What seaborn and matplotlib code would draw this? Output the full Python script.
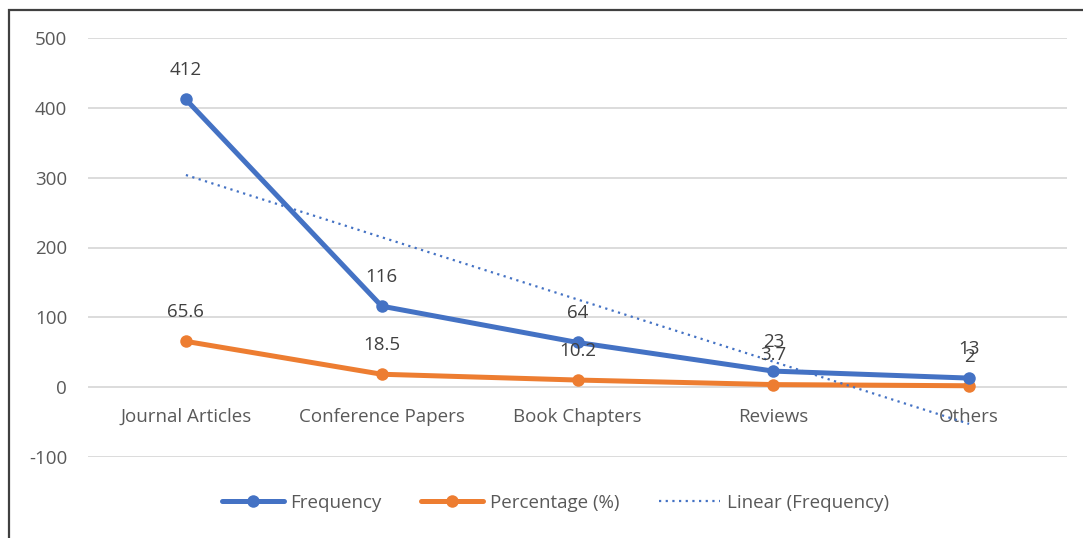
import numpy as np
import pandas as pd
import matplotlib

matplotlib.use('Agg')
import matplotlib.pyplot as plt
import matplotlib.patches as mpatches
import seaborn as sns

# 数据
categories = ['Journal Articles', 'Conference Papers', 'Book Chapters', 'Reviews', 'Others']
frequency = [412, 116, 64, 23, 13]
percentage = [65.6, 18.5, 10.2, 3.7, 2]
y_ticks = [-100, 0, 100, 200, 300, 400, 500]

BLUE = '#4472C4'
ORANGE = '#ED7D31'
TXT = '#595959'
FS = 13.5

sns.set_theme(style='white')
plt.rcParams['font.family'] = ['Open Sans', 'DejaVu Sans']
plt.rcParams['axes.unicode_minus'] = False

df = pd.DataFrame({'category': categories, 'Frequency': frequency, 'Percentage (%)': percentage})

fig = plt.figure(figsize=(10.83, 5.38), dpi=100)
ax = fig.add_axes([88 / 1083, 1 - 457 / 538, (1067 - 88) / 1083, (457 - 38) / 538])

sns.lineplot(data=df, x='category', y='Frequency', ax=ax, color=BLUE, lw=3.6,
             marker='o', markersize=9, markeredgewidth=0, label='Frequency', zorder=4)
sns.lineplot(data=df, x='category', y='Percentage (%)', ax=ax, color=ORANGE, lw=3.6,
             marker='o', markersize=9, markeredgewidth=0, label='Percentage (%)', zorder=3)

# 线性趋势线
xs = np.arange(len(categories))
k, b = np.polyfit(xs, frequency, 1)
ax.plot(xs, k * xs + b, color=BLUE, lw=1.6, ls=(0, (1, 2)), label='Linear (Frequency)', zorder=5)

# 数据标签
for i, v in enumerate(frequency):
    ax.annotate(f'{v}', (i, v), xytext=(0, 21), textcoords='offset points',
                ha='center', va='center', fontsize=FS, color='#404040', zorder=6)
for i, v in enumerate(percentage):
    ax.annotate(f'{v:g}', (i, v), xytext=(0, 21), textcoords='offset points',
                ha='center', va='center', fontsize=FS, color='#404040', zorder=6)

ax.set_xlim(-0.5, len(categories) - 0.5)
ax.set_ylim(-100, 500)
ax.set_yticks(y_ticks)
ax.set_xlabel('')
ax.set_ylabel('')
ax.grid(True, axis='y', color='#d9d9d9', lw=1.3)
ax.set_axisbelow(True)
for s in ax.spines.values():
    s.set_visible(False)
ax.spines['bottom'].set_position(('data', 0))
ax.tick_params(axis='x', length=0, pad=15, labelsize=FS, labelcolor=TXT)
ax.tick_params(axis='y', length=0, pad=15, labelsize=FS, labelcolor=TXT)

ax.get_legend().remove()
h, l = ax.get_legend_handles_labels()
fig.legend(h, l, loc='center', bbox_to_anchor=(0.513, 1 - 503 / 538), ncol=3, frameon=False,
           fontsize=FS, labelcolor=TXT, handlelength=3.3, columnspacing=2.1, handletextpad=0.35)

# 外框
fig.patches.append(mpatches.Rectangle((9 / 1083, -0.1), 1.2, 1 - 10 / 538 + 0.1, fill=False,
                                      edgecolor='#404040', lw=1.6, transform=fig.transFigure))

plt.savefig('out.png', dpi=100)
plt.close(fig)
